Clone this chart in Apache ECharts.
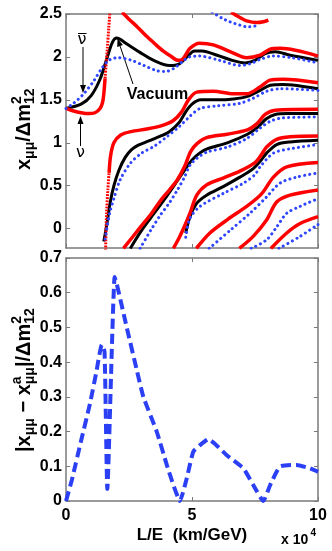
<!DOCTYPE html>
<html>
<head>
<meta charset="utf-8">
<script src="https://cdn.jsdelivr.net/npm/echarts@6/dist/echarts.min.js"></script>
<style>
html, body { margin: 0; padding: 0; background: #fff; }
#main { width: 332px; height: 551px; }
</style>
</head>
<body>
<div id="main"></div>
<script>
// x values are L/E in units of 1e4 km/GeV

// vacuum (black)
var vac1 = [[0,1.40],[0.6,1.45],[1.0,1.55],[1.35,1.74],[1.62,1.98],[1.84,2.17],[2.01,2.22],[2.42,2.15],[2.95,2.05],[3.48,1.96],[4.1,1.90],[4.5,1.92],[4.8,2.0],[5.1,2.07],[5.4,2.07],[6.0,2.02],[6.6,1.96],[7.1,1.93],[7.5,1.96],[7.9,2.04],[8.3,2.06],[8.9,2.02],[10,1.96]];
var vac2 = [[1.5,-0.15],[1.62,0.05],[1.75,0.3],[1.9,0.5],[2.1,0.68],[2.35,0.83],[2.6,0.92],[2.85,0.97],[3.1,1.0],[3.6,1.06],[4.1,1.13],[4.5,1.24],[4.75,1.36],[5.0,1.45],[5.35,1.5],[6.0,1.5],[6.65,1.51],[7.2,1.54],[7.7,1.61],[8.1,1.67],[8.6,1.68],[10,1.63]];
var vac3 = [[2.55,-0.23],[3.0,-0.02],[3.5,0.18],[4.0,0.38],[4.4,0.55],[4.7,0.68],[5.0,0.8],[5.3,0.88],[5.6,0.93],[6.4,1.0],[7.2,1.1],[7.6,1.18],[7.95,1.28],[8.3,1.33],[8.8,1.34],[10,1.34]];
var vac4 = [[4.75,-0.05],[4.92,0.14],[5.2,0.30],[5.58,0.39],[6.24,0.49],[6.9,0.60],[7.43,0.70],[7.75,0.8],[7.96,0.88],[8.36,0.98],[8.9,1.01],[10,1.03]];

// neutrino (red); the steep parts are drawn dotted, as in the source
var nuTop = [[6.55,2.52],[6.9,2.46],[7.17,2.42],[7.57,2.40],[7.83,2.41],[8.03,2.43]];
var nu0 = [[2.23,2.52],[2.5,2.44],[2.83,2.35],[3.2,2.24],[3.5,2.16],[3.85,2.07],[4.15,2.01],[4.45,1.96],[4.65,1.98],[4.92,2.1],[5.3,2.16],[5.85,2.14],[6.6,2.05],[7.17,1.99],[7.7,2.02],[8.1,2.09],[8.5,2.10],[10,2.01]];
var nu1 = [[0,1.40],[0.3,1.37],[0.6,1.35],[0.9,1.34],[1.15,1.35],[1.35,1.40],[1.45,1.47],[1.5,1.57],[1.55,1.75]];
var nu1Steep = [[1.55,1.75],[1.6,1.95],[1.64,2.1],[1.7,2.35],[1.74,2.52]];
var nu2Steep = [[1.57,-0.25],[1.61,0.18],[1.66,0.45],[1.71,0.65]];
var nu2 = [[1.71,0.65],[1.77,0.85],[1.9,1.0],[2.17,1.09],[2.57,1.13],[3.2,1.16],[3.8,1.2],[4.26,1.26],[4.59,1.36],[4.86,1.50],[5.19,1.59],[5.85,1.60],[6.64,1.57],[7.17,1.57],[7.7,1.65],[8.1,1.73],[8.62,1.74],[10,1.70]];
var nu3 = [[2.28,-0.23],[2.96,0.02],[3.4,0.18],[3.76,0.33],[4.1,0.45],[4.42,0.57],[4.7,0.72],[4.95,0.9],[5.2,0.99],[5.58,1.06],[6.4,1.1],[7.2,1.15],[7.57,1.22],[7.9,1.33],[8.3,1.38],[10,1.39]];
var nu4 = [[4.26,-0.23],[4.5,-0.1],[4.75,0.06],[4.92,0.18],[5.19,0.39],[5.58,0.51],[6.24,0.59],[6.9,0.67],[7.5,0.77],[7.75,0.86],[7.96,0.95],[8.36,1.04],[8.9,1.07],[10,1.08]];
var nu5 = [[5.17,-0.23],[5.71,-0.05],[6.38,0.10],[7.17,0.26],[7.6,0.36],[7.83,0.43],[8.23,0.60],[8.76,0.72],[10,0.77]];
var nu6 = [[6.88,-0.23],[7.43,-0.09],[7.96,0.10],[8.36,0.31],[8.89,0.39],[10,0.45]];
var nu7 = [[8.13,-0.23],[8.76,-0.05],[9.29,0.06],[10,0.14]];

// anti-neutrino (blue dots)
var bar0 = [[5.8,2.52],[6.2,2.45],[6.5,2.41],[6.9,2.37],[7.2,2.35],[7.5,2.36],[7.62,2.38]];
var bar1 = [[0,1.40],[0.3,1.46],[0.7,1.57],[1.1,1.72],[1.45,1.88],[1.75,1.97],[2.1,1.99],[2.6,1.96],[3.1,1.9],[3.6,1.84],[3.95,1.83],[4.3,1.87],[4.6,1.94],[4.9,2.0],[5.3,2.01],[6.1,1.96],[6.9,1.9],[7.3,1.92],[7.7,1.97],[8.2,2.01],[9.0,1.99],[10,1.93]];
var bar2 = [[1.55,-0.12],[1.65,0.05],[1.75,0.2],[1.9,0.35],[2.15,0.57],[2.55,0.76],[3.0,0.88],[3.5,0.96],[4.0,1.07],[4.5,1.19],[4.92,1.31],[5.32,1.40],[6.0,1.43],[6.9,1.46],[7.43,1.52],[7.96,1.6],[8.5,1.63],[10,1.61]];
var bar3 = [[2.94,-0.23],[3.36,-0.02],[3.75,0.16],[4.1,0.3],[4.42,0.45],[4.7,0.6],[4.92,0.74],[5.2,0.82],[5.58,0.89],[6.4,0.95],[7.17,1.05],[7.7,1.17],[8.1,1.25],[8.6,1.29],[10,1.30]];
var bar4 = [[4.75,-0.1],[4.92,0.12],[5.32,0.26],[6.24,0.41],[7.04,0.53],[7.5,0.63],[7.7,0.72],[8.23,0.88],[8.89,0.93],[10,0.98]];
var bar5 = [[5.68,-0.23],[6.51,-0.02],[7.30,0.18],[7.96,0.37],[8.49,0.53],[9.15,0.60],[10,0.65]];
var bar6 = [[7.35,-0.23],[7.96,-0.13],[8.36,0.02],[8.76,0.18],[9.29,0.26],[10,0.35]];
var bar7 = [[8.45,-0.23],[9.29,-0.09],[10,0.05]];

// |x - x^a| difference (lower panel)
var diff = [[0,0],[0.23,0.06],[0.62,0.18],[0.95,0.28],[1.2,0.37],[1.42,0.45],[1.53,0.43],[1.64,0.035],[1.93,0.645],[2.0,0.63],[2.41,0.5],[2.8,0.38],[3.07,0.3],[3.6,0.2],[4.0,0.104],[4.26,0.046],[4.52,0],[4.79,0.065],[5.05,0.142],[5.32,0.161],[5.65,0.178],[6.38,0.132],[7.04,0.094],[7.43,0.046],[7.83,0],[8.1,0.046],[8.49,0.099],[9.15,0.104],[9.68,0.094],[10,0.084]];

var topTicks = [0, 0.5, 1, 1.5, 2, 2.5];

var FONT = 'Liberation Sans';
var AXIS = '#7a7a7a';

var chart = echarts.init(document.getElementById('main'));

function curve(data, color, width, dash, gi) {
  return {
    type: 'line', data: data, xAxisIndex: gi * 2, yAxisIndex: gi * 2,
    symbol: 'none', smooth: 0.3, clip: true, silent: true,
    lineStyle: { color: color, width: width, type: dash || 'solid', cap: dash ? 'round' : 'butt' }
  };
}

var series = [];
[vac1, vac2, vac3, vac4].forEach(function (d) { series.push(curve(d, '#000', 3, null, 0)); });
[nuTop, nu0, nu1, nu2, nu3, nu4, nu5, nu6, nu7].forEach(function (d) { series.push(curve(d, '#ff0000', 3.5, null, 0)); });
[nu1Steep, nu2Steep].forEach(function (d) {
  var s = curve(d, '#ff0000', 3, [1.8, 1.2], 0);
  s.lineStyle.cap = 'butt';
  series.push(s);
});
[bar0, bar1, bar2, bar3, bar4, bar5, bar6, bar7].forEach(function (d) { series.push(curve(d, '#2f45ff', 3, [0.1, 5], 0)); });
var low = curve(diff, '#2b40f5', 4, [10, 5], 1);
low.smooth = 0.15;
low.lineStyle.cap = 'butt';
series.push(low);

function fmt(v) { return String(+v.toFixed(2)); }

function xAx(gi, pos, labels) {
  return {
    type: 'value', gridIndex: gi, position: pos, min: 0, max: 10, interval: 5,
    axisLine: { show: true, onZero: false, lineStyle: { color: AXIS, width: 1.5 } },
    axisTick: { show: true, inside: true, length: 4, lineStyle: { color: AXIS, width: 1 } },
    axisLabel: { show: labels, margin: 7, color: '#000', fontFamily: FONT, fontWeight: 'bold', fontSize: 16, formatter: fmt },
    splitLine: { show: false }
  };
}
function yAx(gi, pos, labels, opt) {
  var a = {
    type: 'value', gridIndex: gi, position: pos,
    axisLine: { show: true, onZero: false, lineStyle: { color: AXIS, width: 1.5 } },
    axisTick: { show: true, inside: true, length: 4, lineStyle: { color: AXIS, width: 1 } },
    axisLabel: { show: labels, margin: 4, color: '#000', fontFamily: FONT, fontWeight: 'bold', fontSize: 16, formatter: fmt },
    splitLine: { show: false }
  };
  for (var k in opt) a[k] = opt[k];
  if (opt.ticks) {
    a.axisTick.customValues = opt.ticks;
    a.axisLabel.customValues = opt.ticks;
    delete a.ticks;
  }
  return a;
}

// rotated axis title built from pieces (sub/superscripts)
var ctx = document.createElement('canvas').getContext('2d');
function textWidth(t, size) {
  ctx.font = 'bold ' + size + 'px "' + FONT + '"';
  return ctx.measureText(t).width;
}
function txt(x, y, t, size, weight, align, family) {
  return {
    type: 'text', x: x, y: y, silent: true,
    style: {
      text: t, fontSize: size, fontWeight: weight || 'bold', fontFamily: family || FONT, fill: '#000',
      align: align || 'left', verticalAlign: 'middle', textAlign: align || 'left', textVerticalAlign: 'middle'
    }
  };
}
function rotatedLabel(x0, y0, parts) {
  var children = [], pos = 0;
  parts.forEach(function (p) {
    children.push(txt(pos, (p.b || 0) - 0.33 * p.s, p.t, p.s));
    if (!p.stay) pos += textWidth(p.t, p.s);
  });
  return { type: 'group', x: x0, y: y0, rotation: Math.PI / 2, children: children };
}
function arrow(x1, y1, x2, y2) {
  var dx = x2 - x1, dy = y2 - y1, L = Math.sqrt(dx * dx + dy * dy);
  var ux = dx / L, uy = dy / L, hl = 8, hw = 3;
  var bx = x2 - ux * hl, by = y2 - uy * hl;
  return [
    { type: 'line', silent: true, shape: { x1: x1, y1: y1, x2: bx, y2: by }, style: { stroke: '#000', lineWidth: 1 } },
    { type: 'polygon', silent: true, shape: { points: [[x2, y2], [bx - uy * hw, by + ux * hw], [bx + uy * hw, by - ux * hw]] }, style: { fill: '#000' } }
  ];
}

var graphics = [];
graphics.push(rotatedLabel(31, 170, [
  { t: 'x', s: 20 }, { t: 'μμ', s: 14, b: 4 }, { t: '/Δm', s: 20 },
  { t: '2', s: 14, b: -9, stay: true }, { t: '12', s: 14, b: 4 }
]));
graphics.push(rotatedLabel(31, 452, [
  { t: '|x', s: 20 }, { t: 'μμ', s: 14, b: 4 }, { t: ' − ', s: 20 }, { t: 'x', s: 20 },
  { t: 'a', s: 14, b: -9, stay: true }, { t: 'μμ', s: 14, b: 4 }, { t: '|/Δm', s: 20 },
  { t: '2', s: 14, b: -9, stay: true }, { t: '12', s: 14, b: 4 }
]));
graphics.push(txt(192, 535, 'L/E  (km/GeV)', 17, 'bold', 'center'));
graphics.push(txt(281, 540, 'x 10', 14, 'bold', 'left'));
graphics.push(txt(310.5, 533, '4', 10, 'bold', 'left'));
graphics.push(txt(157.5, 95, 'Vacuum', 16, 'bold', 'center'));
graphics.push(txt(82, 40, 'ν', 16, 'normal', 'center', 'DejaVu Sans'));
graphics.push({ type: 'line', silent: true, shape: { x1: 78, y1: 33.5, x2: 86.5, y2: 33.5 }, style: { stroke: '#000', lineWidth: 1 } });
graphics.push(txt(80.5, 153, 'ν', 16, 'normal', 'center', 'DejaVu Sans'));
graphics = graphics.concat(arrow(133, 84, 117.5, 38.5));
graphics = graphics.concat(arrow(83, 47, 83, 93));
graphics = graphics.concat(arrow(80.5, 146, 80.5, 116));

var option = {
  animation: false,
  backgroundColor: '#fff',
  grid: [
    { left: 66, top: 14, width: 252, height: 234, containLabel: false, outerBoundsMode: 'none' },
    { left: 66, top: 258, width: 252, height: 243, containLabel: false, outerBoundsMode: 'none' }
  ],
  xAxis: [xAx(0, 'bottom', false), xAx(0, 'top', false), xAx(1, 'bottom', true), xAx(1, 'top', false)],
  yAxis: [
    yAx(0, 'left', true, { min: -0.225, max: 2.5, ticks: topTicks }),
    yAx(0, 'right', false, { min: -0.225, max: 2.5, ticks: topTicks }),
    yAx(1, 'left', true, { min: 0, max: 0.7, interval: 0.1 }),
    yAx(1, 'right', false, { min: 0, max: 0.7, interval: 0.1 })
  ],
  series: series,
  graphic: graphics
};

chart.setOption(option);
</script>
</body>
</html>
